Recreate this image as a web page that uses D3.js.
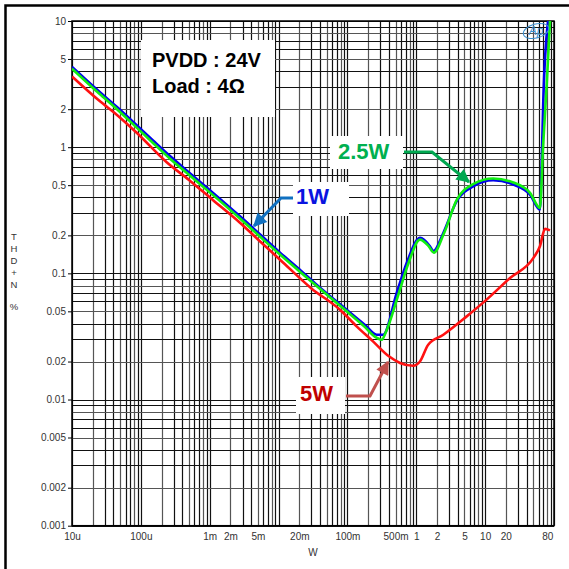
<!DOCTYPE html>
<html>
<head>
<meta charset="utf-8">
<script src="https://cdn.jsdelivr.net/npm/d3@7"></script>
<style>
  body { margin: 0; background: #fff; }
  svg { font-family: 'Liberation Sans', Arial, sans-serif; }
</style>
</head>
<body>
<svg id="chart" width="569" height="569"></svg>
<script>
// THD+N (%) vs output power (W)
const xTickVals = [1e-5, 1e-4, 1e-3, 2e-3, 5e-3, 2e-2, 1e-1, 0.5, 1, 2, 5, 10, 20, 80]
const xTickText = ['10u', '100u', '1m', '2m', '5m', '20m', '100m', '500m', '1', '2', '5', '10', '20', '80']
const yTickVals = [10, 5, 2, 1, 0.5, 0.2, 0.1, 0.05, 0.02, 0.01, 0.005, 0.002, 0.001]
const yTickText = ['10', '5', '2', '1', '0.5', '0.2', '0.1', '0.05', '0.02', '0.01', '0.005', '0.002', '0.001']

const thd1W = [
  [1e-5, 4.33], [2.5e-5, 2.75], [4.5e-5, 2.08], [8.7e-5, 1.49], [1.5e-4, 1.13],
  [2.65e-4, 0.85], [5e-4, 0.63], [1.13e-3, 0.432], [2.75e-3, 0.283], [5.4e-3, 0.203],
  [0.0105, 0.146], [0.02, 0.108], [0.036, 0.081], [0.0975, 0.0515], [0.18, 0.039],
  [0.266, 0.0326], [0.33, 0.0326], [0.52, 0.070], [0.73, 0.122], [1.13, 0.191],
  [1.58, 0.164], [1.77, 0.150], [2.47, 0.209], [3.86, 0.373], [6.7, 0.49],
  [13.1, 0.547], [25.6, 0.506], [44.8, 0.421], [62.5, 0.32], [67, 0.96],
  [70, 2.4], [82, 10]
]
const thd25W = [
  [1e-5, 4.19], [2.5e-5, 2.65], [4.5e-5, 2.0], [8.7e-5, 1.43], [1.5e-4, 1.08],
  [2.65e-4, 0.81], [5e-4, 0.605], [1.13e-3, 0.415], [2.75e-3, 0.272], [5.4e-3, 0.195],
  [0.0105, 0.141], [0.02, 0.104], [0.036, 0.079], [0.0975, 0.050], [0.18, 0.0375],
  [0.25, 0.0315], [0.315, 0.0298], [0.36, 0.034], [0.55, 0.068], [0.76, 0.118],
  [1.13, 0.185], [1.5, 0.165], [1.8, 0.146], [2.5, 0.205], [3.9, 0.385],
  [6.7, 0.51], [13.1, 0.565], [25.6, 0.525], [44.8, 0.435], [62.5, 0.33],
  [69, 0.96], [79, 3.4], [87.5, 10]
]
const thd5W = [
  [1e-5, 3.64], [2.5e-5, 2.33], [4.5e-5, 1.8], [8.7e-5, 1.30], [2.37e-4, 0.76],
  [5e-4, 0.55], [1.12e-3, 0.38], [2.75e-3, 0.252], [4.8e-3, 0.19], [0.0116, 0.122],
  [0.03, 0.076], [0.078, 0.0515], [0.136, 0.038], [0.235, 0.0289], [0.4, 0.022],
  [0.58, 0.0195], [0.9, 0.0185], [1.13, 0.020], [1.49, 0.0272], [2.47, 0.0326],
  [5.4, 0.0456], [10.5, 0.0619], [23, 0.0919], [50, 0.132], [62.5, 0.164],
  [74, 0.225], [87.5, 0.219]
]

let padL = 72
let padR = 554
let padT = 21
let padB = 525.7
let svg = d3.select('#chart')

let x = d3.scaleLog().domain([1e-5, 100]).range([padL, padR])
let y = d3.scaleLog().domain([0.001, 10]).range([padB, padT])

// outer frame (only top and left show)
svg.append('path')
  .attr('d', 'M5.5,580 L5.5,5.5 L580,5.5')
  .attr('fill', 'none')
  .attr('stroke', '#000')
  .attr('stroke-width', 2.5)

// grid
let xGrid = []
for (let e = -5; e <= 1; e++) for (let m = 1; m <= 9; m++) xGrid.push(m * Math.pow(10, e))
xGrid.push(100)
let yGrid = []
for (let e = -3; e <= 0; e++) for (let m = 1; m <= 9; m++) yGrid.push(m * Math.pow(10, e))
yGrid.push(10)

let grid = svg.append('g')
grid.selectAll('.vg').data(xGrid).enter().append('line')
  .attr('x1', d => Math.round(x(d)) + 0.5).attr('x2', d => Math.round(x(d)) + 0.5)
  .attr('y1', padT).attr('y2', padB)
  .attr('stroke', (d, i) => i % 3 === 1 ? '#555' : '#111')
  .attr('stroke-width', 1.2)
grid.selectAll('.hg').data(yGrid).enter().append('line')
  .attr('y1', d => Math.round(y(d)) + 0.5).attr('y2', d => Math.round(y(d)) + 0.5)
  .attr('x1', padL).attr('x2', padR)
  .attr('stroke', (d, i) => i % 3 === 1 ? '#555' : '#111')
  .attr('stroke-width', 1.2)

// axes frame lines
svg.append('rect')
  .attr('x', padL).attr('y', padT)
  .attr('width', padR - padL).attr('height', padB - padT)
  .attr('fill', 'none').attr('stroke', '#000').attr('stroke-width', 1.5)

// white boxes behind annotations
let boxes = [[141, 40, 134, 77], [330, 136, 73, 33], [293, 182, 56, 34], [296, 377, 49, 37]]
svg.selectAll('.wbox').data(boxes).enter().append('rect')
  .attr('x', d => d[0]).attr('y', d => d[1])
  .attr('width', d => d[2]).attr('height', d => d[3])
  .attr('fill', '#fff')

// y axis ticks and labels
let yAxis = d3.axisLeft(y).tickValues(yTickVals)
  .tickFormat((d, i) => yTickText[i]).tickSize(4).tickPadding(2)
let ya = svg.append('g').attr('transform', 'translate(' + padL + ',0)').call(yAxis)
ya.select('.domain').remove()
ya.selectAll('text').attr('font-size', 10).attr('fill', '#333')
  .attr('font-family', "'Liberation Sans', Arial, sans-serif")

// x axis labels
let xAxis = d3.axisBottom(x).tickValues(xTickVals)
  .tickFormat((d, i) => xTickText[i]).tickSize(0).tickPadding(7)
let xa = svg.append('g').attr('transform', 'translate(0,' + padB + ')').call(xAxis)
xa.select('.domain').remove()
xa.selectAll('text').attr('font-size', 10).attr('fill', '#333')
  .attr('font-family', "'Liberation Sans', Arial, sans-serif")

svg.append('text').text('W')
  .attr('x', (padL + padR) / 2).attr('y', 556)
  .attr('text-anchor', 'middle').attr('font-size', 10).attr('fill', '#333')

// stacked y title
let yTitle = [['T', 240], ['H', 252], ['D', 264], ['+', 276], ['N', 288], ['%', 310]]
svg.selectAll('.yt').data(yTitle).enter().append('text')
  .text(d => d[0]).attr('x', 14).attr('y', d => d[1])
  .attr('text-anchor', 'middle').attr('font-size', 9.5).attr('fill', '#333')

// curves
svg.append('clipPath').attr('id', 'plotclip')
  .append('rect').attr('x', padL).attr('y', padT)
  .attr('width', padR - padL).attr('height', padB - padT)

let line = d3.line()
  .x(d => x(d[0])).y(d => y(d[1]))
  .curve(d3.curveMonotoneX)

let curves = svg.append('g').attr('clip-path', 'url(#plotclip)')
curves.append('path').datum(thd1W).attr('d', line)
  .attr('fill', 'none').attr('stroke', '#0000ee').attr('stroke-width', 2.6)
curves.append('path').datum(thd25W).attr('d', line)
  .attr('fill', 'none').attr('stroke', '#11ee11').attr('stroke-width', 2.6)
curves.append('path').datum(thd5W).attr('d', line)
  .attr('fill', 'none').attr('stroke', '#ff1111').attr('stroke-width', 2.6)

// arrows
let defs = svg.append('defs')
let arrowCols = { g: '#00a850', b: '#1070c0', r: '#c0504d' }
Object.keys(arrowCols).forEach(k => {
  defs.append('marker')
    .attr('id', 'ah' + k).attr('viewBox', '0 0 10 10')
    .attr('refX', 9).attr('refY', 5)
    .attr('markerWidth', 5).attr('markerHeight', 4.5)
    .attr('markerUnits', 'strokeWidth')
    .attr('orient', 'auto')
    .append('path').attr('d', 'M0,0 L10,5 L0,10 Z').attr('fill', arrowCols[k])
})
let arrows = [
  ['g', 'M404,152 L432,152 L469,182'],
  ['b', 'M293,198 L281,198 L254,226'],
  ['r', 'M346,396 L370,396 L388,362']
]
svg.selectAll('.arr').data(arrows).enter().append('path')
  .attr('d', d => d[1]).attr('fill', 'none')
  .attr('stroke', d => arrowCols[d[0]]).attr('stroke-width', 3)
  .attr('marker-end', d => 'url(#ah' + d[0] + ')')

// annotations
svg.append('text').text('PVDD : 24V')
  .attr('x', 152).attr('y', 67).attr('font-size', 20).attr('font-weight', 'bold')
svg.append('text').text('Load : 4Ω')
  .attr('x', 152).attr('y', 93).attr('font-size', 20).attr('font-weight', 'bold')
svg.append('text').text('2.5W')
  .attr('x', 338).attr('y', 159).attr('font-size', 22).attr('font-weight', 'bold').attr('fill', '#00b050')
svg.append('text').text('1W')
  .attr('x', 296).attr('y', 204).attr('font-size', 22).attr('font-weight', 'bold').attr('fill', '#0a14e0')
svg.append('text').text('5W')
  .attr('x', 300).attr('y', 401).attr('font-size', 22).attr('font-weight', 'bold').attr('fill', '#c00000')

// Ap logo
svg.append('ellipse').attr('cx', 536).attr('cy', 31).attr('rx', 13).attr('ry', 7)
  .attr('fill', 'none').attr('stroke', '#3a8fd0').attr('stroke-width', 1)
  .attr('transform', 'rotate(-15,536,31)')
svg.append('text').text('Ap')
  .attr('x', 536).attr('y', 35).attr('text-anchor', 'middle')
  .attr('font-size', 12).attr('font-style', 'italic').attr('fill', '#3a8fd0')
</script>
</body>
</html>
